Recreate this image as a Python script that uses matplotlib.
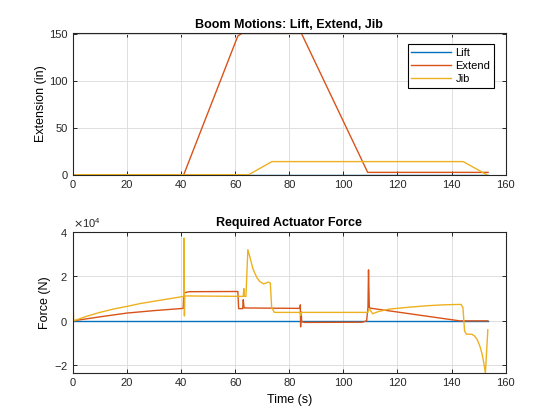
import numpy as np
import matplotlib
matplotlib.use("Agg")
import matplotlib.pyplot as plt
from matplotlib.ticker import ScalarFormatter

plt.rcParams['font.family'] = ['Liberation Sans', 'DejaVu Sans']

# colours (MATLAB default order)
c_lift = '#0072BD'
c_ext = '#D95319'
c_jib = '#EDB120'
labels = ['Lift', 'Extend', 'Jib']

# boom positions (in)
t_lift = [0, 153.4]
lift_pos = [0, 0]
t_ext = [0, 41, 61, 62.5, 84.5, 109, 153.5]
ext_pos = [0, 0, 148, 150.8, 150.8, 2.5, 2.5]
t_jib = [0, 65, 73.6, 144.3, 153]
jib_pos = [0, 0, 14, 14, 0]

tf_lift = [0, 153.4]
f_lift = np.array([0, 0]) * 1e4
tf_ext = [0, 10, 20, 30, 40.8, 41.0, 41.5, 43, 61, 61.3, 62.8, 63.0, 63.3, 84,
          84.1, 84.2, 84.4, 84.6, 85.5, 107, 108.6, 109.1, 109.3, 109.6, 110, 143, 153.4]
f_ext = np.array([0, 0.18, 0.35, 0.46, 0.56, 1.2, 1.27, 1.31, 1.32, 0.55, 0.55, 0.95, 0.58, 0.56,
                  0.72, -0.27, 0.4, -0.03, -0.07, -0.06, 0.0, 0.6, 2.29, 0.6, 0.57, 0.0, 0.0]) * 1e4
tf_jib = [0, 0.05, 0.3, 5, 10, 15, 20, 25, 30, 35, 41, 41.1, 41.25, 41.4, 63, 63.2, 63.4, 64.0,
          64.7, 65.5, 66.6, 68, 69, 70.5, 72.3, 73.0, 73.5, 74.5, 84, 84.2, 84.5, 109, 109.6,
          110.8, 113, 117, 125, 131, 137, 143.5, 144.2, 144.8, 145.5, 147.5, 148.5, 149.5,
          150.5, 151.3, 152, 152.5, 153.4]
f_jib = np.array([-0.37, 1.13, 0, 0.2, 0.38, 0.53, 0.65, 0.78, 0.88, 0.98, 1.1, 3.72, 0.22, 1.12,
                  1.1, 1.45, 1.1, 1.1, 3.2, 2.85, 2.33, 1.95, 1.78, 1.66, 1.74, 1.7, 0.6, 0.38,
                  0.38, 0.25, 0.38, 0.38, 0.55, 0.32, 0.42, 0.53, 0.62, 0.68, 0.72, 0.74, 0.6,
                  -0.45, -0.6, -0.6, -0.68, -0.85, -1.15, -1.5, -1.95, -2.36, -0.4]) * 1e4

fig = plt.figure(figsize=(5.6, 4.2), dpi=100)
ax1 = fig.add_axes([0.130, 0.584, 0.773, 0.337])
ax2 = fig.add_axes([0.130, 0.111, 0.773, 0.337])

ax1.plot(t_lift, lift_pos, color=c_lift, lw=1.0, label=labels[0])
ax1.plot(t_ext, ext_pos, color=c_ext, lw=1.0, label=labels[1])
ax1.plot(t_jib, jib_pos, color=c_jib, lw=1.0, label=labels[2])
ax1.set_ylim(0, 151)
ax1.set_yticks([0, 50, 100, 150])
ax1.set_title('Boom Motions: Lift, Extend, Jib', fontsize=9, fontweight='bold', pad=4)
ax1.set_ylabel('Extension (in)', fontsize=9, labelpad=2)
leg = ax1.legend(loc='upper right', bbox_to_anchor=(0.972, 0.922), borderaxespad=0,
                 fontsize=8, fancybox=False, edgecolor='black', framealpha=1,
                 handlelength=3.6, borderpad=0.3, labelspacing=0.3, handletextpad=0.4)
leg.get_frame().set_linewidth(0.8)

ax2.plot(tf_lift, f_lift, color=c_lift, lw=1.0)
ax2.plot(tf_ext, f_ext, color=c_ext, lw=1.0)
ax2.plot(tf_jib, f_jib, color=c_jib, lw=1.0)
ax2.set_ylim(-2.36e4, 4e4)
ax2.set_yticks([-2e4, 0, 2e4, 4e4])
fmt = ScalarFormatter(useMathText=True)
fmt.set_powerlimits((0, 0))
ax2.yaxis.set_major_formatter(fmt)
ax2.yaxis.get_offset_text().set_fontsize(8)
ax2.yaxis.get_offset_text().set_color('#262626')
ax2.set_title('Required Actuator Force', fontsize=9, fontweight='bold', pad=4)
ax2.set_ylabel('Force (N)', fontsize=9, labelpad=2)
ax2.set_xlabel('Time (s)', fontsize=9)

for ax in (ax1, ax2):
    ax.set_xlim(0, 160)
    ax.set_xticks(np.arange(0, 161, 20))
    ax.grid(True, color='#dedede', lw=0.7)
    ax.set_axisbelow(True)
    ax.tick_params(direction='in', top=True, right=True, labelsize=8, length=3,
                   colors='#262626', width=0.7)
    for s in ax.spines.values():
        s.set_color('#262626')
        s.set_linewidth(0.8)

fig.savefig('out.png', dpi=100)
